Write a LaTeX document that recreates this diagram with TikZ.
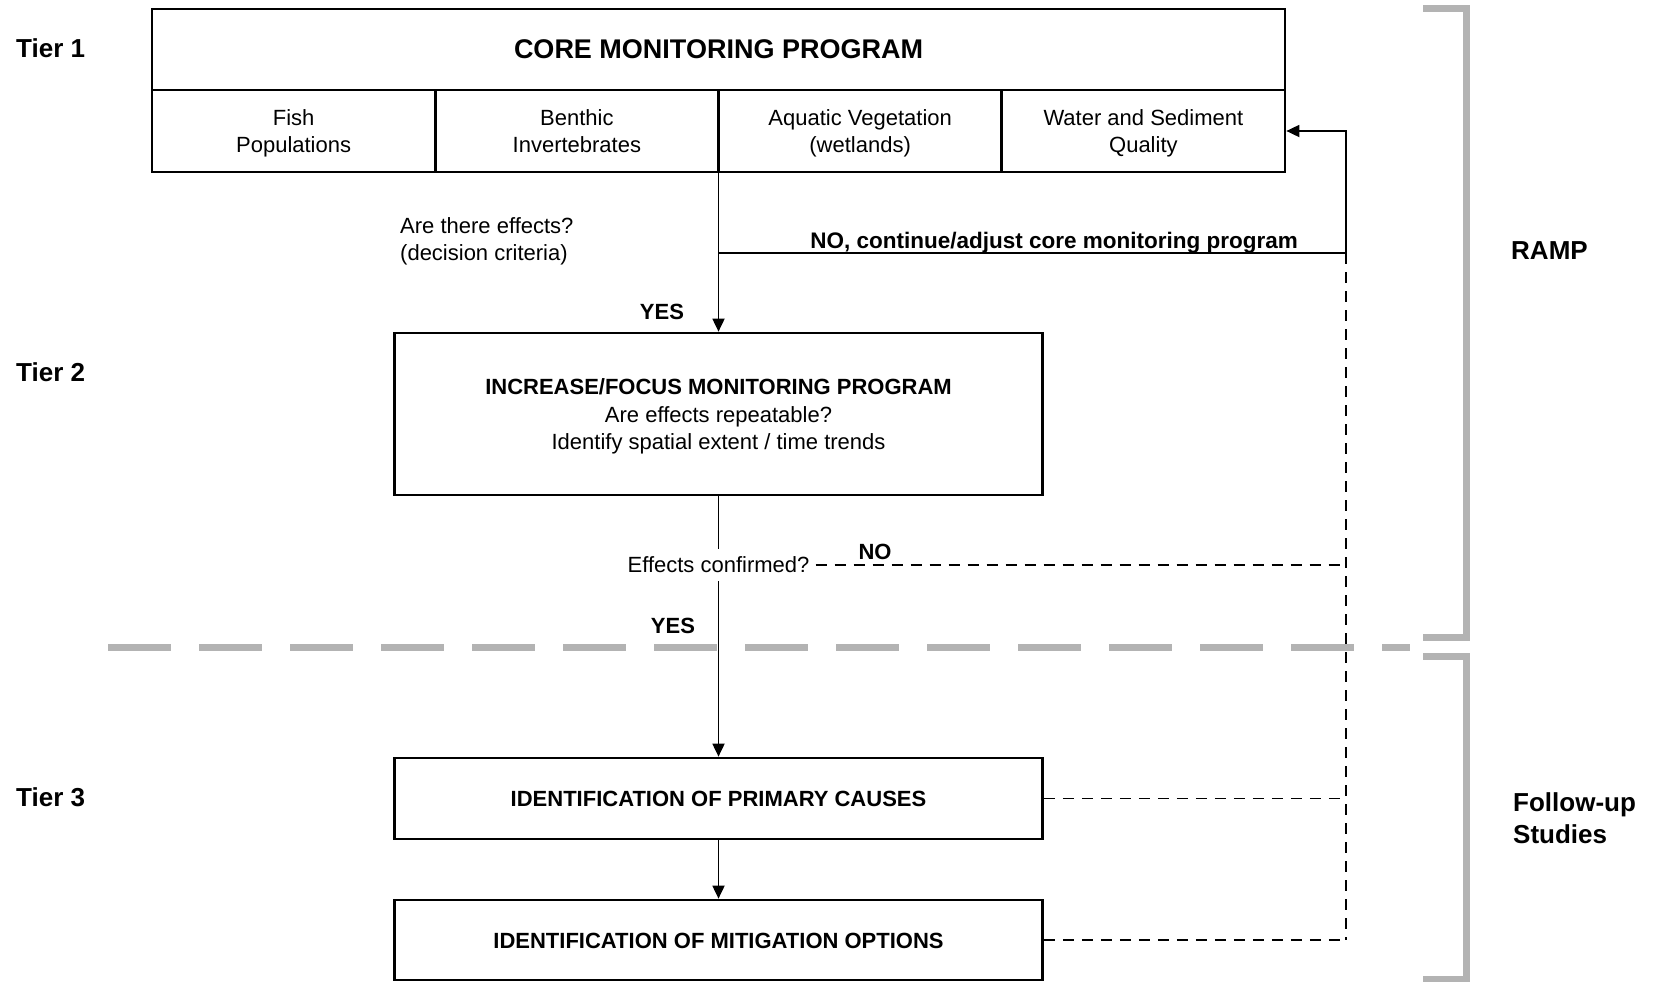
\documentclass[tikz,border=0pt]{standalone}
\usepackage{fontspec}
\setmainfont{Liberation Sans}
\usetikzlibrary{arrows.meta}
\definecolor{bracketgray}{RGB}{179,179,179}
\newcommand{\ls}{\rule[-5pt]{0pt}{26pt}}
\tikzset{
  boxline/.style={draw=black, line width=2.7pt, inner sep=0pt, align=center},
  cellbox/.style={boxline, minimum width=283.25pt, minimum height=82pt,
     font=\fontsize{22}{27.5}\selectfont},
  conn/.style={draw=black, line width=1.8pt},
  arr/.style={conn, -{Triangle[length=13pt,width=12pt]}},
  dconn/.style={draw=black, line width=1.8pt, dash pattern=on 11pt off 8pt},
  graybar/.style={draw=bracketgray, line width=7pt},
  lbl/.style={inner sep=0pt, font=\fontsize{22}{27.5}\selectfont},
  blbl/.style={inner sep=0pt, font=\bfseries\fontsize{22}{27.5}\selectfont},
  tierlbl/.style={inner sep=0pt, anchor=west, font=\bfseries\fontsize{26}{32}\selectfont},
}
\begin{document}
\begin{tikzpicture}[x=1pt,y=-1pt]
\useasboundingbox (0,0) rectangle (1654,982);

% Tier 1 box
\node[boxline, minimum width=1133pt, minimum height=81pt,
      font=\bfseries\fontsize{27}{32}\selectfont] (core) at (718.5,49.5) {CORE MONITORING PROGRAM};
\node[cellbox] (c1) at (293.625,131) {\ls Fish\\\ls Populations};
\node[cellbox] (c2) at (576.875,131) {\ls Benthic\\\ls Invertebrates};
\node[cellbox] (c3) at (860.125,131) {\ls Aquatic Vegetation\\\ls (wetlands)};
\node[cellbox] (c4) at (1143.375,131) {\ls Water and Sediment\\\ls Quality};

% Tier 2 box
\node[boxline, minimum width=648pt, minimum height=162pt,
      font=\fontsize{22}{27.5}\selectfont] (t2) at (718.5,414)
  {\ls\textbf{INCREASE/FOCUS MONITORING PROGRAM}\\\ls Are effects repeatable?\\\ls Identify spatial extent / time trends};

% Tier 3 boxes
\node[boxline, minimum width=648pt, minimum height=81pt,
      font=\bfseries\fontsize{22}{27.5}\selectfont] (b3) at (718.5,798.5) {\ls IDENTIFICATION OF PRIMARY CAUSES};
\node[boxline, minimum width=648pt, minimum height=80pt,
      font=\bfseries\fontsize{22}{27.5}\selectfont] (b4) at (718.5,940) {\ls IDENTIFICATION OF MITIGATION OPTIONS};

% coordinates
\coordinate (j1) at (718.5,253);
\coordinate (r1) at (1346,253);
\coordinate (r2) at (1346,565);
\coordinate (r3) at (1346,798.5);
\coordinate (r4) at (1346,940);

% labels
\node[lbl, anchor=west, align=left] (q1) at (400,241.5) {Are there effects?\\(decision criteria)};
\node[blbl, anchor=base east, font=\bfseries\fontsize{22.5}{27.5}\selectfont] (nolbl) at (1298,248) {NO, continue/adjust core monitoring program};
\node[blbl] (yes1) at (662,312) {YES};
\node[lbl, inner xsep=6pt, inner ysep=8pt] (ec) at (718.5,565) {Effects confirmed?};
\node[blbl] (no2) at (875,552) {NO};
\node[blbl] (yes2) at (673,626) {YES};

% solid connectors
\draw[arr] (t2.north |- c3.south) -- (t2.north);
\draw[arr] (j1) -- (r1) -- (r1 |- c4.east) -- (c4.east);
\draw[conn] (t2.south) -- (ec.north);
\draw[arr] (ec.south) -- (b3.north);
\draw[arr] (b3.south) -- (b4.north);

% dashed connectors
\draw[dconn] (ec.east) -- (r2);
\draw[dconn] (r1) -- (r4);
\draw[dconn] (b3.east) -- (r3);
\draw[dconn] (b4.east) -- (r4);

% gray separator and brackets
\coordinate (s1) at (108,647);
\coordinate (s2) at (1410,647);
\draw[graybar, dash pattern=on 63pt off 28pt] (s1) -- (s2);
\coordinate (ba1) at (1423,9);
\coordinate (ba2) at (1466,9);
\coordinate (ba3) at (1466,637);
\coordinate (ba4) at (1423,637);
\draw[graybar, line join=miter] (ba1) -- (ba2) -- (ba3) -- (ba4);
\coordinate (bb1) at (1423,656);
\coordinate (bb2) at (1466,656);
\coordinate (bb3) at (1466,979);
\coordinate (bb4) at (1423,979);
\draw[graybar, line join=miter] (bb1) -- (bb2) -- (bb3) -- (bb4);

% side labels
\node[tierlbl] (tier1) at (16,48.5) {Tier 1};
\node[tierlbl] (tier2) at (16,372) {Tier 2};
\node[tierlbl] (tier3) at (16,797) {Tier 3};
\node[tierlbl] (ramp) at (1511,251) {RAMP};
\node[tierlbl, align=left] (fus) at (1513,818) {Follow-up\\Studies};
\end{tikzpicture}
\end{document}
